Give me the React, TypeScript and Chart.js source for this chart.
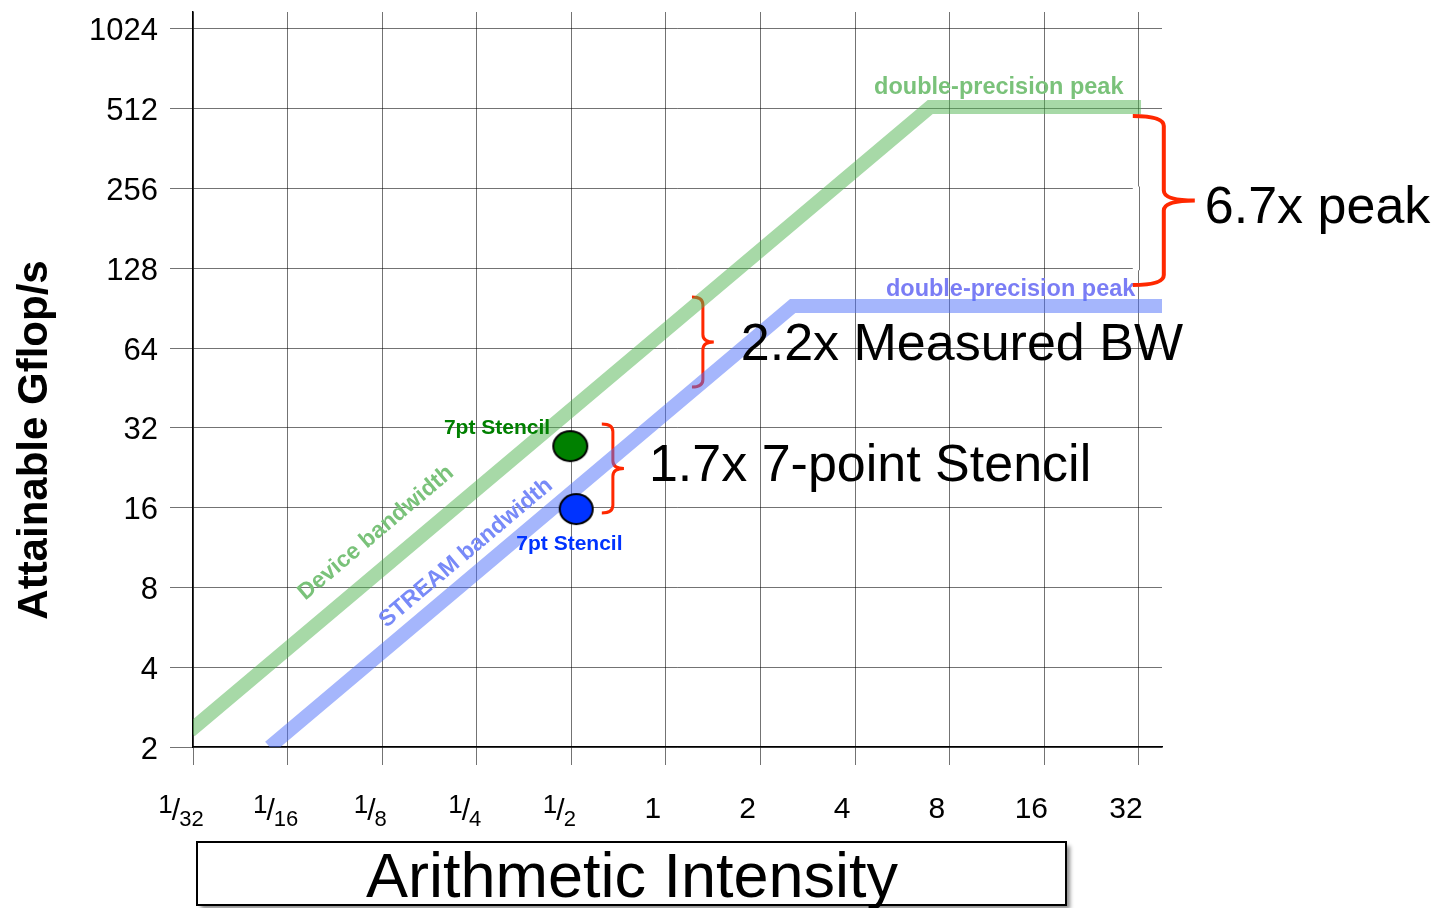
import React, { useEffect, useRef } from "react";
import { Chart, registerables } from "chart.js";

Chart.register(...registerables);

// ---------- data ----------
const xTickValues = [1 / 32, 1 / 16, 1 / 8, 1 / 4, 1 / 2, 1, 2, 4, 8, 16, 32];
const xTickLabels = ["1/32", "1/16", "1/8", "1/4", "1/2", "1", "2", "4", "8", "16", "32"];
const yTickValues = [2, 4, 8, 16, 32, 64, 128, 256, 512, 1024];
const yTickLabels = ["2", "4", "8", "16", "32", "64", "128", "256", "512", "1024"];
const xRange = [1 / 32, 37.9];
const yRange = [2, 1186];

// rooflines
const deviceBwX = [0.0306, 6.94, 32.5];
const deviceBwY = [2.3, 520, 520];
const streamBwX = [0.0548, 2.53, 38];
const streamBwY = [2.0, 92.2, 92.2];

// measured kernels
const stencilDeviceX = [0.496];
const stencilDeviceY = [27.3];
const stencilStreamX = [0.518];
const stencilStreamY = [15.8];

// annotations (data coordinates)
const peakLabels = ["double-precision peak", "double-precision peak"];
const peakLabelX = [11.46, 12.5];
const peakLabelY = [580, 100.6];
const bwLabels = ["Device bandwidth", "STREAM bandwidth"];
const bwLabelX = [0.1194, 0.2311];
const bwLabelY = [12.84, 10.79];
const stencilLabels = ["7pt Stencil", "7pt Stencil"];
const stencilLabelX = [0.2899, 0.493];
const stencilLabelY = [30.3, 11.07];

const braceLeftX = [30.6, 1.21, 0.625];
const braceTipX = [48.2, 1.42, 0.735];
const braceTopY = [480, 99.7, 33.1];
const braceBottomY = [110.6, 45.6, 15.27];
const braceLabels = ["6.7x peak", "2.2x Measured BW", "1.7x 7-point Stencil"];

// ---------- styles ----------
const FONT = "'Liberation Sans', Arial, Helvetica, sans-serif";
const GRID = "rgba(0,0,0,0.55)";
const GREEN_BAND = "rgba(80,180,80,0.5)";
const BLUE_BAND = "rgba(75,110,250,0.5)";
const GREEN_TEXT = "rgb(122,194,122)";
const BLUE_TEXT = "rgb(122,125,245)";
const STREAM_TEXT = "rgb(120,138,248)";
const RED = "rgb(255,40,0)";
const braceWidths = [4, 3, 3];
const braceTextDx = [10, 27, 25];
const braceTextDy = [22, 18, 13];

function makeDot(w: number, h: number, fill: string) {
  const c = document.createElement("canvas");
  c.width = w + 4;
  c.height = h + 4;
  const g = c.getContext("2d")!;
  g.beginPath();
  g.ellipse(c.width / 2, c.height / 2, w / 2 - 1, h / 2 - 1, 0, 0, Math.PI * 2);
  g.fillStyle = fill;
  g.fill();
  g.lineWidth = 2;
  g.strokeStyle = "#000";
  g.stroke();
  return c;
}

function drawBrace(ctx: CanvasRenderingContext2D, lx: number, tx: number, y0: number, y1: number, width: number) {
  const mx = (lx + tx) / 2;
  const ym = (y0 + y1) / 2;
  const r = Math.min(10, (mx - lx) * 0.7);
  ctx.save();
  ctx.strokeStyle = RED;
  ctx.lineWidth = width;
  ctx.lineCap = "butt";
  ctx.lineJoin = "round";
  ctx.beginPath();
  ctx.moveTo(lx, y0);
  ctx.quadraticCurveTo(mx, y0, mx, y0 + r);
  ctx.lineTo(mx, ym - r);
  ctx.quadraticCurveTo(mx, ym, tx, ym);
  ctx.moveTo(lx, y1);
  ctx.quadraticCurveTo(mx, y1, mx, y1 - r);
  ctx.lineTo(mx, ym + r);
  ctx.quadraticCurveTo(mx, ym, tx, ym);
  ctx.stroke();
  ctx.restore();
}

const overlayPlugin = {
  id: "rooflineOverlay",
  beforeDatasetsDraw(chart: any) {
    const ctx: CanvasRenderingContext2D = chart.ctx;
    const xs = chart.scales.x;
    const ys = chart.scales.y;
    const area = chart.chartArea;
    // grid lines 256/128 stop at the brace
    const wx0 = xs.getPixelForValue(braceLeftX[0]);
    const wy0 = ys.getPixelForValue(256) - 2;
    const wy1 = ys.getPixelForValue(128) + 2;
    ctx.save();
    ctx.fillStyle = "#fff";
    ctx.fillRect(wx0, wy0, area.right + 2 - wx0, wy1 - wy0);
    const gx = Math.round(xs.getPixelForValue(32)) + 0.5;
    ctx.strokeStyle = GRID;
    ctx.lineWidth = 1;
    ctx.beginPath();
    ctx.moveTo(gx, wy0);
    ctx.lineTo(gx, wy1);
    ctx.stroke();

    // peak labels
    ctx.font = `bold 23.5px ${FONT}`;
    ctx.textAlign = "center";
    ctx.textBaseline = "alphabetic";
    peakLabels.forEach((t, i) => {
      ctx.fillStyle = i === 0 ? GREEN_TEXT : BLUE_TEXT;
      ctx.fillText(t, xs.getPixelForValue(peakLabelX[i]), ys.getPixelForValue(peakLabelY[i]));
    });
    ctx.restore();

    braceLabels.forEach((_, i) => {
      drawBrace(
        ctx,
        xs.getPixelForValue(braceLeftX[i]),
        xs.getPixelForValue(braceTipX[i]),
        ys.getPixelForValue(braceTopY[i]),
        ys.getPixelForValue(braceBottomY[i]),
        braceWidths[i]
      );
    });
  },
  afterDraw(chart: any) {
    const ctx: CanvasRenderingContext2D = chart.ctx;
    const xs = chart.scales.x;
    const ys = chart.scales.y;
    const area = chart.chartArea;
    ctx.save();

    // bandwidth labels rotated along rooflines
    const ang = Math.atan2(
      ys.getPixelForValue(deviceBwY[1]) - ys.getPixelForValue(deviceBwY[0]),
      xs.getPixelForValue(deviceBwX[1]) - xs.getPixelForValue(deviceBwX[0])
    );
    bwLabels.forEach((t, i) => {
      ctx.save();
      ctx.translate(xs.getPixelForValue(bwLabelX[i]), ys.getPixelForValue(bwLabelY[i]));
      ctx.rotate(ang);
      ctx.font = `bold 23px ${FONT}`;
      ctx.textAlign = "center";
      ctx.textBaseline = "middle";
      ctx.fillStyle = i === 0 ? GREEN_TEXT : STREAM_TEXT;
      ctx.fillText(t, 0, 0);
      ctx.restore();
    });

    // stencil labels
    ctx.font = `bold 21px ${FONT}`;
    ctx.textAlign = "center";
    ctx.textBaseline = "alphabetic";
    stencilLabels.forEach((t, i) => {
      ctx.fillStyle = i === 0 ? "rgb(0,128,0)" : "rgb(0,51,255)";
      ctx.fillText(t, xs.getPixelForValue(stencilLabelX[i]), ys.getPixelForValue(stencilLabelY[i]));
    });

    // brace labels
    ctx.font = `52px ${FONT}`;
    ctx.textAlign = "left";
    ctx.fillStyle = "#000";
    braceLabels.forEach((t, i) => {
      const tx = xs.getPixelForValue(braceTipX[i]);
      const ym = (ys.getPixelForValue(braceTopY[i]) + ys.getPixelForValue(braceBottomY[i])) / 2;
      ctx.fillText(t, tx + braceTextDx[i], ym + braceTextDy[i]);
    });

    // x tick labels (fractions with super/subscripts)
    const base = area.bottom;
    ctx.fillStyle = "#000";
    xTickValues.forEach((v, i) => {
      const label = xTickLabels[i];
      const cx = xs.getPixelForValue(v) - 12;
      if (label.includes("/")) {
        const [num, den] = label.split("/");
        const fNum = `26px ${FONT}`;
        const fSl = `30px ${FONT}`;
        const fDen = `22px ${FONT}`;
        ctx.font = fNum;
        const wn = ctx.measureText(num).width;
        ctx.font = fSl;
        const ws = ctx.measureText("/").width;
        ctx.font = fDen;
        const wd = ctx.measureText(den).width;
        const kern = -1;
        let x = cx - (wn + ws + wd + 2 * kern) / 2;
        ctx.textAlign = "left";
        ctx.font = fNum;
        ctx.fillText(num, x, base + 66);
        x += wn + kern;
        ctx.font = fSl;
        ctx.fillText("/", x, base + 73);
        x += ws + kern;
        ctx.font = fDen;
        ctx.fillText(den, x, base + 79);
      } else {
        ctx.font = `30px ${FONT}`;
        ctx.textAlign = "center";
        ctx.fillText(label, cx - 1, base + 71);
      }
    });

    // x axis title in shadowed box
    const bx = 197, by = 842, bw = 869, bh = 63;
    ctx.save();
    ctx.shadowColor = "rgba(0,0,0,0.45)";
    ctx.shadowBlur = 4;
    ctx.shadowOffsetX = 4;
    ctx.shadowOffsetY = 4;
    ctx.fillStyle = "#fff";
    ctx.fillRect(bx, by, bw, bh);
    ctx.restore();
    ctx.strokeStyle = "#000";
    ctx.lineWidth = 2;
    ctx.strokeRect(bx, by, bw, bh);
    ctx.font = `63px ${FONT}`;
    ctx.textAlign = "center";
    ctx.textBaseline = "alphabetic";
    ctx.fillStyle = "#000";
    ctx.fillText("Arithmetic Intensity", 632, 897);

    // y axis title
    ctx.save();
    ctx.translate(47, 440);
    ctx.rotate(-Math.PI / 2);
    ctx.font = `bold 42px ${FONT}`;
    ctx.textAlign = "center";
    ctx.fillText("Attainable Gflop/s", 0, 0);
    ctx.restore();

    ctx.restore();
  },
};

export default function App() {
  const ref = useRef<HTMLCanvasElement | null>(null);

  useEffect(() => {
    if (!ref.current) return;
    const greenDot = makeDot(36, 32, "rgb(0,128,0)");
    const blueDot = makeDot(35, 32, "rgb(0,51,255)");
    const pts = (xs: number[], ys: number[]) => xs.map((x, i) => ({ x, y: ys[i] }));

    const chart = new Chart(ref.current, {
      type: "scatter",
      data: {
        datasets: [
          {
            label: "7pt Stencil (device)",
            data: pts(stencilDeviceX, stencilDeviceY),
            pointStyle: greenDot as any,
            pointRadius: 18,
            order: 0,
          },
          {
            label: "7pt Stencil (STREAM)",
            data: pts(stencilStreamX, stencilStreamY),
            pointStyle: blueDot as any,
            pointRadius: 18,
            order: 0,
          },
          {
            label: "Device bandwidth",
            data: pts(deviceBwX, deviceBwY),
            showLine: true,
            borderColor: GREEN_BAND,
            borderWidth: 14,
            borderCapStyle: "butt",
            borderJoinStyle: "miter",
            pointRadius: 0,
            tension: 0,
            order: 2,
          },
          {
            label: "STREAM bandwidth",
            data: pts(streamBwX, streamBwY),
            showLine: true,
            borderColor: BLUE_BAND,
            borderWidth: 14,
            borderCapStyle: "butt",
            borderJoinStyle: "miter",
            pointRadius: 0,
            tension: 0,
            order: 1,
          },
        ] as any,
      },
      options: {
        responsive: false,
        animation: false,
        devicePixelRatio: 1,
        events: [],
        layout: { autoPadding: false, padding: { left: 0, top: 12, right: 277, bottom: 0 } },
        plugins: {
          legend: { display: false },
          tooltip: { enabled: false },
          title: { display: false },
        },
        scales: {
          x: {
            type: "logarithmic",
            position: "bottom",
            min: xRange[0],
            max: xRange[1],
            afterBuildTicks: (s: any) => {
              s.ticks = xTickValues.map((v) => ({ value: v }));
            },
            afterFit: (s: any) => {
              s.height = 161;
              s.paddingLeft = 0;
              s.paddingRight = 0;
            },
            ticks: { display: false, autoSkip: false },
            grid: { color: GRID, lineWidth: 1, tickLength: 18, drawTicks: true },
            border: { display: true, color: "#000", width: 1.5 },
          },
          y: {
            type: "logarithmic",
            position: "left",
            min: yRange[0],
            max: yRange[1],
            afterBuildTicks: (s: any) => {
              s.ticks = yTickValues.map((v) => ({ value: v }));
            },
            afterFit: (s: any) => {
              s.width = 193;
              s.paddingTop = 0;
              s.paddingBottom = 0;
            },
            ticks: {
              autoSkip: false,
              font: { family: FONT, size: 31 },
              color: "#000",
              padding: 12,
              labelOffset: 3,
              callback: (_v: any, i: number) => yTickLabels[i],
            },
            grid: { color: GRID, lineWidth: 1, tickLength: 23, drawTicks: true },
            border: { display: true, color: "#000", width: 1.5 },
          },
        } as any,
      },
      plugins: [overlayPlugin],
    });
    return () => chart.destroy();
  }, []);

  return (
    <div style={{ position: "absolute", left: 0, top: 0, width: 1439, height: 908, background: "#fff" }}>
      <canvas ref={ref} width={1439} height={908} style={{ display: "block", width: 1439, height: 908 }} />
    </div>
  );
}
